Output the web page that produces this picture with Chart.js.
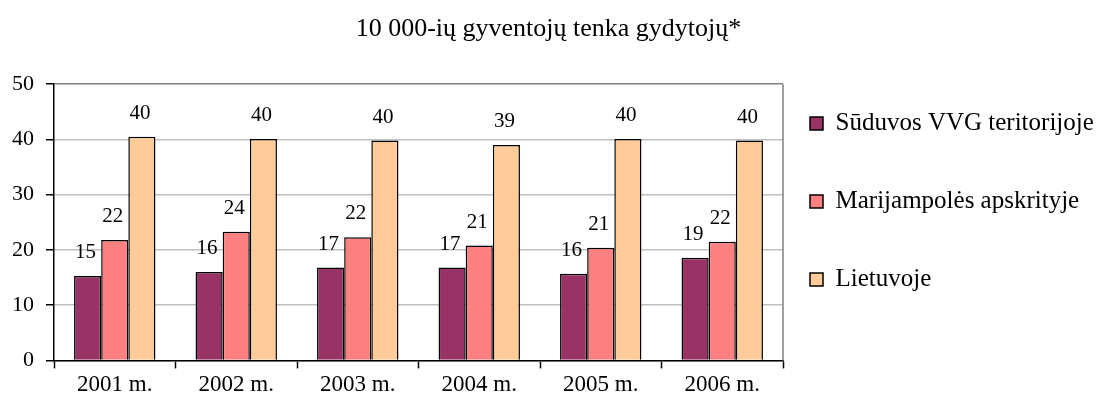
<!DOCTYPE html>
<html>
<head>
<meta charset="utf-8">
<script src="https://cdn.jsdelivr.net/npm/chart.js@4"></script>
<style>
  html, body { margin: 0; padding: 0; background: #fff; }
  #wrap { width: 1097px; height: 408px; }
</style>
</head>
<body>
<div id="wrap"><canvas id="chart"></canvas></div>
<script>
// Data
const years = ['2001 m.', '2002 m.', '2003 m.', '2004 m.', '2005 m.', '2006 m.'];
const suduvos = [15.3, 16.0, 16.8, 16.8, 15.7, 18.6];
const marijampole = [21.8, 23.3, 22.3, 20.8, 20.4, 21.5];
const lietuva = [40.5, 40.1, 39.8, 39.0, 40.1, 39.8];
// value labels as printed on the chart
const suduvosLabels = ['15', '16', '17', '17', '16', '19'];
const marijampoleLabels = ['22', '24', '22', '21', '21', '22'];
const lietuvaLabels = ['40', '40', '40', '39', '40', '40'];
const yTicks = [0, 10, 20, 30, 40, 50];

const serif = 'Liberation Serif';

// draws the printed value above each bar
const valueLabels = {
    id: 'valueLabels',
    afterDatasetsDraw(chart) {
        const ctx = chart.ctx;
        ctx.save();
        ctx.font = '21px "' + serif + '"';
        ctx.fillStyle = '#000';
        ctx.textAlign = 'center';
        ctx.textBaseline = 'alphabetic';
        chart.data.datasets.forEach((ds, i) => {
            const meta = chart.getDatasetMeta(i);
            meta.data.forEach((bar, j) => {
                ctx.fillText(ds.printed[j], bar.x - 2, bar.y - 18);
            });
        });
        ctx.restore();
    }
};

// gray frame on the right side of the plot area
const plotFrame = {
    id: 'plotFrame',
    beforeDatasetsDraw(chart) {
        const a = chart.chartArea;
        const ctx = chart.ctx;
        ctx.save();
        ctx.strokeStyle = '#808080';
        ctx.lineWidth = 1.5;
        ctx.beginPath();
        ctx.moveTo(a.right, a.top);
        ctx.lineTo(a.right, a.bottom);
        ctx.stroke();
        ctx.restore();
    }
};

// fixed legend width, and legend moved down/left to where the reference has it
const legendPlace = {
    id: 'legendPlace',
    beforeInit(chart) {
        const lg = chart.legend;
        const fit = lg.fit;
        lg.fit = function () {
            fit.call(this);
            this.width = 314;
        };
    },
    afterLayout(chart) {
        chart.legend.left = chart.chartArea.right - 26;
        chart.legend.top = 58;
    }
};

const ctx = document.getElementById('chart').getContext('2d');
const chart = new Chart(ctx, {
    type: 'bar',
    data: {
        labels: years,
        datasets: [{
            label: 'Sūduvos VVG teritorijoje',
            data: suduvos,
            printed: suduvosLabels,
            backgroundColor: '#993366',
            borderColor: '#000',
            borderWidth: 1.5
        }, {
            label: 'Marijampolės apskrityje',
            data: marijampole,
            printed: marijampoleLabels,
            backgroundColor: '#FF8080',
            borderColor: '#000',
            borderWidth: 1.5
        }, {
            label: 'Lietuvoje',
            data: lietuva,
            printed: lietuvaLabels,
            backgroundColor: '#FFCC99',
            borderColor: '#000',
            borderWidth: 1.5
        }]
    },
    options: {
        responsive: true,
        maintainAspectRatio: false,
        animation: false,
        layout: { padding: { left: 0, bottom: 6, right: 0, top: 0 } },
        datasets: {
            bar: { categoryPercentage: 0.67, barPercentage: 1.0 }
        },
        scales: {
            x: {
                grid: {
                    display: true,
                    drawOnChartArea: false,
                    drawTicks: true,
                    tickLength: 8,
                    tickColor: '#000',
                    tickWidth: 1.5,
                    offset: true
                },
                border: { color: '#000', width: 1.5 },
                ticks: {
                    color: '#000',
                    font: { family: serif, size: 23 },
                    padding: 3,
                    maxRotation: 0
                }
            },
            y: {
                min: 0,
                max: 50,
                afterBuildTicks(scale) {
                    scale.ticks = yTicks.map(v => ({ value: v }));
                },
                grid: {
                    color: c => (c.tick && c.tick.value === 50) ? '#808080' : '#c0c0c0',
                    lineWidth: 1.5,
                    tickLength: 8,
                    tickColor: '#000',
                    tickWidth: 1.5
                },
                border: { color: '#000', width: 1.5 },
                ticks: {
                    color: '#000',
                    font: { family: serif, size: 22 },
                    padding: 12
                }
            }
        },
        plugins: {
            title: {
                display: true,
                text: '10 000-ių gyventojų tenka gydytojų*',
                color: '#000',
                font: { family: serif, size: 26, weight: 'normal' },
                padding: { top: 14, bottom: 39 }
            },
            legend: {
                position: 'right',
                align: 'start',
                labels: {
                    color: '#000',
                    boxWidth: 13,
                    boxHeight: 13,
                    padding: 53,
                    font: { family: serif, size: 25 }
                }
            },
            tooltip: { enabled: false }
        }
    },
    plugins: [legendPlace, plotFrame, valueLabels]
});
</script>
</body>
</html>
